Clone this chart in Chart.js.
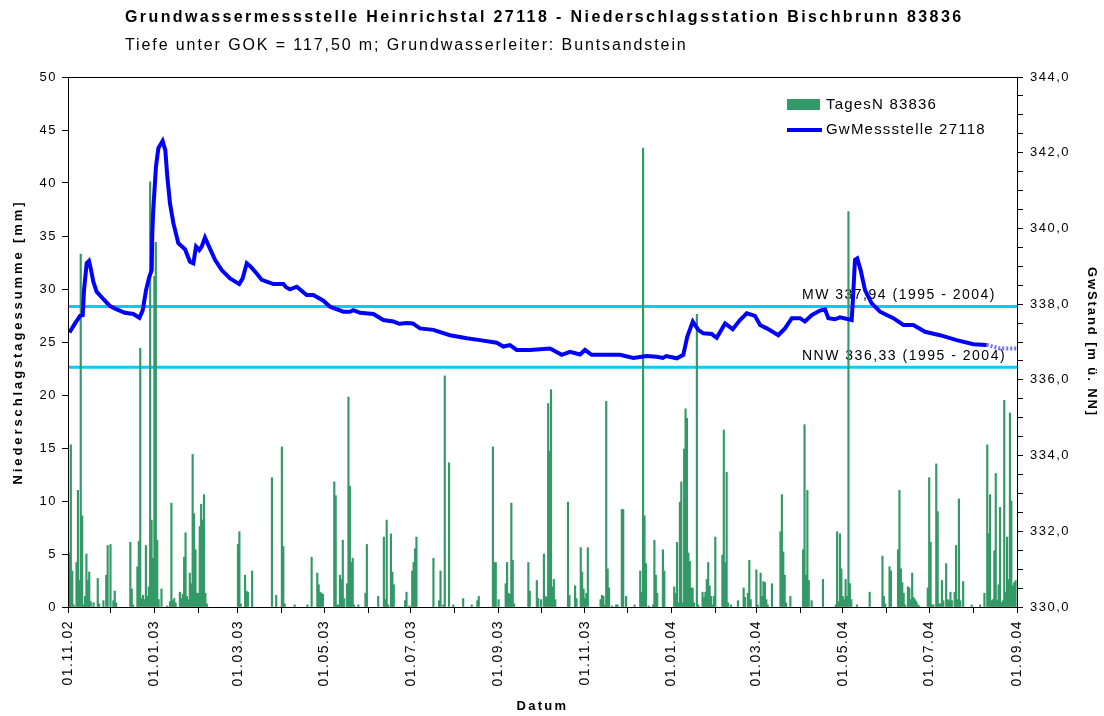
<!DOCTYPE html>
<html>
<head>
<meta charset="utf-8">
<script src="https://cdn.jsdelivr.net/npm/chart.js@4.4.0/dist/chart.umd.min.js"></script>
<style>
html, body { margin: 0; padding: 0; background: #fff; }
#wrap { width: 1104px; height: 716px; }
</style>
</head>
<body>
<div id="wrap"><canvas id="GwChart"></canvas></div>
<script>
// day offsets from 01.11.2002, daily precipitation [mm]
const rainfall = [
    [1,5.1],[2,15.3],[3,3.4],[4,0.2],[6,4.2],[7,11.0],[8,2.5],[9,33.3],[10,8.6],[11,0.2],[12,1.0],[13,5.0],[14,2.5],[15,3.3],[16,0.5],
    [18,0.4],[21,2.7],[22,0.3],[25,0.6],[27,3.0],[28,5.8],[30,5.9],[32,0.6],[33,1.5],[34,0.4],[44,6.1],[45,1.7],[46,0.2],
    [49,3.8],[50,6.2],[51,24.4],[52,0.8],[53,1.1],[54,0.7],[55,5.8],[56,1.0],[57,1.9],[58,40.1],[59,8.2],[60,4.6],[61,31.2],[62,34.4],
    [63,6.3],[64,0.7],[66,1.7],[70,0.1],[72,0.5],[73,9.8],[74,0.6],[75,0.8],[76,0.4],[79,1.4],[80,0.8],[81,1.2],[82,4.7],[83,7.0],
    [84,1.0],[85,0.7],[86,3.2],[87,2.2],[88,14.4],[89,8.8],[90,5.4],[91,1.3],[92,1.3],[93,7.6],[94,9.7],[95,8.2],[96,10.6],[97,1.3],
    [98,0.3],[120,5.9],[121,7.1],[122,0.3],[125,3.0],[126,1.5],[127,1.4],[130,3.4],[144,12.2],[147,1.1],[151,15.1],[152,5.7],[153,0.3],
    [160,0.2],[169,0.2],[172,4.7],[176,3.2],[177,2.1],[178,1.4],[179,1.3],[180,1.2],[188,11.8],[189,10.5],[190,0.2],[191,0.2],[192,3.0],
    [193,2.6],[194,6.3],[195,0.8],[197,2.2],[198,19.8],[199,11.4],[200,4.2],[201,4.6],[202,0.2],[205,0.2],[210,1.3],[211,5.9],[219,1.0],
    [223,6.6],[224,0.7],[225,8.2],[226,0.2],[228,6.9],[229,3.3],[230,2.1],[238,0.6],[239,1.4],[241,0.1],[243,3.4],[244,4.2],[245,5.5],
    [246,6.6],[258,4.6],[262,0.6],[263,3.4],[265,0.2],[266,21.8],[269,13.6],[272,0.2],[279,0.8],[285,0.2],[289,0.6],[290,1.0],[300,15.1],
    [301,4.2],[302,4.2],[304,0.7],[309,2.2],[310,4.2],[311,1.3],[312,1.2],[313,9.8],[314,4.4],[315,0.3],[325,4.2],[326,1.5],[331,2.5],
    [332,0.8],[334,0.7],[336,5.0],[337,1.0],[338,0.9],[339,19.2],[340,14.7],[341,20.5],[342,1.9],[343,2.6],[344,0.7],[353,9.9],[354,1.1],
    [358,2.0],[359,0.8],[362,5.6],[363,3.3],[364,1.7],[365,0.8],[366,1.3],[367,5.6],[376,0.7],[377,1.1],[378,1.0],[379,0.2],[380,19.4],
    [381,3.6],[382,1.8],[384,0.1],[387,0.2],[388,0.2],[391,9.2],[392,9.2],[394,1.0],[400,0.2],[404,3.4],[405,1.4],[406,43.3],[407,8.6],
    [408,4.1],[410,0.1],[413,0.2],[414,6.3],[415,3.0],[416,1.3],[420,5.4],[421,3.4],[428,1.9],[429,1.3],[430,6.1],[431,0.4],[432,9.9],
    [433,11.8],[434,0.4],[435,14.9],[436,18.7],[437,17.8],[438,5.1],[439,4.3],[440,1.8],[441,1.8],[442,0.4],[444,27.6],[445,0.2],
    [448,1.4],[449,0.9],[450,1.4],[451,2.6],[452,4.2],[453,2.0],[454,1.0],[455,0.2],[456,1.0],[457,6.6],[462,4.9],[463,16.7],[464,4.2],
    [465,12.7],[466,0.4],[468,0.2],[473,0.6],[477,1.8],[478,0.9],[480,1.3],[481,4.4],[482,0.7],[486,3.5],[487,0.2],[489,3.2],[490,1.0],
    [491,2.4],[492,2.3],[493,0.7],[494,0.2],[497,2.2],[503,7.1],[504,10.6],[505,5.2],[506,3.0],[507,0.4],[510,1.0],[519,5.4],[520,17.2],
    [521,3.0],[522,11.0],[523,2.5],[525,0.6],[533,2.6],[542,0.2],[543,7.1],[544,0.5],[545,6.9],[546,3.6],[547,1.0],[548,0.7],[549,2.6],
    [550,1.0],[551,37.3],[552,2.2],[553,0.7],[557,0.2],[566,1.4],[575,4.8],[576,1.0],[577,0.3],[580,3.8],[581,3.4],[586,5.4],[587,11.0],
    [588,3.6],[589,2.3],[590,1.3],[591,0.2],[593,1.9],[594,1.8],[595,0.7],[596,3.2],[597,0.9],[598,0.7],[599,0.5],[600,0.2],[601,0.1],
    [607,1.8],[608,12.2],[609,6.1],[610,0.2],[611,0.2],[613,13.5],[614,9.0],[615,0.3],[616,0.3],[617,2.5],[618,0.6],[620,4.1],[621,0.7],
    [622,0.6],[623,1.4],[624,0.6],[626,1.4],[627,5.8],[628,0.7],[629,10.2],[630,0.6],[632,2.4],[638,0.2],[644,0.2],[647,1.3],[649,15.3],
    [650,6.9],[651,10.6],[652,0.6],[653,0.7],[654,5.3],[655,12.6],[656,0.6],[657,2.1],[658,9.4],[659,0.4],[660,0.6],[661,19.5],[662,1.4],
    [663,6.6],[664,2.6],[665,18.3],[666,10.0],[667,2.0],[668,2.3],[669,2.5]
];

// groundwater level [m ü. NN] at day offsets
const gwLevel = [
    [1,337.25],[5,337.49],[8.5,337.69],[10.4,337.71],[11.3,338.37],[13.2,339.08],[14.8,339.14],[16,338.95],[17.9,338.59],[20.2,338.33],
    [25,338.13],[29.7,337.95],[34.4,337.86],[40.2,337.77],[46.1,337.74],[50.4,337.64],[52.7,337.83],[55.1,338.37],[57.4,338.72],
    [59.1,338.90],[59.5,339.87],[60.2,340.49],[62.1,341.63],[63.8,342.12],[66.8,342.31],[68.7,342.07],[70.1,341.37],[72,340.66],
    [74.4,340.14],[77.9,339.61],[82.6,339.45],[86.1,339.12],[88.5,339.08],[90.4,339.52],[92.7,339.43],[94.4,339.52],[96.7,339.76],
    [99.1,339.56],[103.8,339.17],[108.5,338.90],[114.4,338.68],[120.9,338.53],[123.3,338.68],[126.2,339.08],[129,338.99],[133.2,338.81],
    [136.8,338.64],[145,338.53],[152,338.53],[154,338.45],[156.7,338.39],[161.5,338.46],[168.5,338.24],[173.2,338.24],[180.3,338.09],
    [185,337.93],[194.4,337.80],[199,337.80],[201.4,337.84],[206.2,337.77],[215.6,337.74],[222.6,337.58],[229.7,337.54],[234,337.48],
    [239,337.50],[243.4,337.49],[248.5,337.36],[257.9,337.32],[269.7,337.18],[281.5,337.10],[290.9,337.05],[302.7,336.98],[307.3,336.88],
    [312,336.92],[316.8,336.79],[326.2,336.79],[340.3,336.83],[348.6,336.66],[354.4,336.74],[361.5,336.67],[365,336.79],[369.7,336.66],
    [389.7,336.66],[399.1,336.58],[408.5,336.63],[415.6,336.61],[420,336.58],[422.4,336.63],[429.8,336.57],[434.4,336.66],[437.2,337.14],
    [441.1,337.54],[445,337.32],[448.5,337.23],[454.5,337.21],[458,337.11],[463.9,337.49],[469.3,337.34],[474.4,337.58],[479.2,337.76],
    [485,337.69],[488.6,337.45],[493.3,337.36],[501.5,337.18],[506.2,337.36],[511,337.63],[516.8,337.63],[520.3,337.54],[525.1,337.71],
    [530.9,337.83],[534.5,337.86],[536.8,337.63],[541.5,337.60],[545,337.65],[553.3,337.58],[554.4,338.29],[555.6,339.17],[557.2,339.21],
    [559.6,338.90],[562.7,338.37],[567.4,338.02],[573.3,337.80],[582.7,337.63],[589.8,337.45],[596.8,337.45],[605.1,337.27],
    [615.6,337.18],[627.4,337.05],[639.2,336.94],[648.6,336.92],[658,336.83],[670,336.83]
];

const mwLevel = 337.94;
const nnwLevel = 336.33;
const totalDays = 670;

// first of each month, days since 01.11.02
const monthTicks = [0,30,61,92,120,151,181,212,242,273,304,334,365,395,426,457,486,517,547,578,608,639,670];
const monthLabels = ['01.11.02','01.01.03','01.03.03','01.05.03','01.07.03','01.09.03',
                     '01.11.03','01.01.04','01.03.04','01.05.04','01.07.04','01.09.04'];

const FONT = "'Liberation Sans', Arial, sans-serif";
Chart.defaults.font.family = FONT;
Chart.defaults.color = '#000';

function spacedText(ctx, text, x, y, font, spacing, align, rot) {
    ctx.save();
    ctx.translate(x, y);
    if (rot) ctx.rotate(rot);
    ctx.font = font;
    ctx.letterSpacing = spacing + 'px';
    ctx.textAlign = align;
    ctx.textBaseline = 'middle';
    ctx.fillStyle = '#000';
    ctx.fillText(text, 0, 0);
    ctx.restore();
}

const decorations = {
    id: 'decorations',
    beforeDraw(chart) {
        chart.ctx.letterSpacing = '1.5px';
    },
    beforeDatasetsDraw(chart) {
        const ctx = chart.ctx;
        const y2 = chart.scales.y2;
        spacedText(ctx, 'MW 337,94 (1995 - 2004)', 802, y2.getPixelForValue(mwLevel) - 11, '14px ' + FONT, 1.5, 'left');
        spacedText(ctx, 'NNW 336,33 (1995 - 2004)', 802, y2.getPixelForValue(nnwLevel) - 11, '14px ' + FONT, 1.5, 'left');
    },
    afterDraw(chart) {
        const ctx = chart.ctx;
        const a = chart.chartArea;
        ctx.save();
        ctx.letterSpacing = '0px';
        ctx.strokeStyle = '#000';
        ctx.lineWidth = 1;
        ctx.strokeRect(a.left + 0.5, a.top + 0.5, a.right - a.left, a.bottom - a.top);

        // legend
        ctx.fillStyle = '#339966';
        ctx.fillRect(787, 99, 33, 11);
        ctx.strokeStyle = '#0000ff';
        ctx.lineWidth = 4;
        ctx.beginPath();
        ctx.moveTo(787, 130);
        ctx.lineTo(822, 130);
        ctx.stroke();
        ctx.restore();
        spacedText(ctx, 'TagesN 83836', 826, 105, '15px ' + FONT, 1.2, 'left');
        spacedText(ctx, 'GwMessstelle 27118', 826, 130, '15px ' + FONT, 1.2, 'left');

        // titles
        spacedText(ctx, 'Grundwassermessstelle Heinrichstal 27118 - Niederschlagsstation Bischbrunn 83836',
            125, 18, 'bold 16px ' + FONT, 2.4, 'left');
        spacedText(ctx, 'Tiefe unter GOK = 117,50 m; Grundwasserleiter: Buntsandstein',
            125, 46, '16px ' + FONT, 1.9, 'left');
        const midY = (a.top + a.bottom) / 2;
        spacedText(ctx, 'Niederschlagstagessumme [mm]', 18, midY, 'bold 13px ' + FONT, 2.9, 'center', -Math.PI / 2);
        spacedText(ctx, 'GwStand [m ü. NN]', 1092, midY, 'bold 13px ' + FONT, 1.9, 'center', Math.PI / 2);
        spacedText(ctx, 'Datum', (a.left + a.right) / 2, 706, 'bold 13px ' + FONT, 2.3, 'center');
    }
};

const GwChart = new Chart(
    document.getElementById('GwChart'), {
        type: 'bar',
        plugins: [decorations],
        data: {
            datasets: [
                {
                    type: 'line',
                    label: 'GwMessstelle 27118',
                    data: gwLevel.map(d => ({x: d[0], y: d[1]})),
                    yAxisID: 'y2',
                    borderColor: '#0000ff',
                    borderWidth: 4,
                    pointRadius: 0,
                    tension: 0,
                    order: 0,
                    segment: {
                        borderColor: c => c.p0.parsed.x >= 648 ? '#7070ff' : undefined,
                        borderDash: c => c.p0.parsed.x >= 648 ? [2, 2] : undefined,
                    },
                },
                {
                    label: 'TagesN 83836',
                    data: rainfall.map(d => ({x: d[0], y: d[1]})),
                    yAxisID: 'y',
                    backgroundColor: '#339966',
                    barThickness: 1.5,
                    order: 1,
                },
                {
                    type: 'line',
                    label: 'MW',
                    data: [{x: 0, y: mwLevel}, {x: totalDays, y: mwLevel}],
                    yAxisID: 'y2',
                    borderColor: '#00ccff',
                    borderWidth: 3,
                    pointRadius: 0,
                    order: 2,
                },
                {
                    type: 'line',
                    label: 'NNW',
                    data: [{x: 0, y: nnwLevel}, {x: totalDays, y: nnwLevel}],
                    yAxisID: 'y2',
                    borderColor: '#00ccff',
                    borderWidth: 3,
                    pointRadius: 0,
                    order: 2,
                },
            ]
        },
        options: {
            responsive: true,
            maintainAspectRatio: false,
            animation: false,
            layout: {
                padding: {top: 77, left: 0, right: 0, bottom: 0}
            },
            scales: {
                x: {
                    type: 'linear',
                    min: 0,
                    max: totalDays,
                    offset: false,
                    afterBuildTicks: scale => {
                        scale.ticks = monthTicks.map(v => ({value: v}));
                    },
                    afterFit: scale => { scale.height = 109; },
                    grid: {
                        drawOnChartArea: false,
                        drawTicks: true,
                        tickLength: 6,
                        tickColor: '#000',
                        offset: false,
                    },
                    border: {display: false},
                    ticks: {
                        autoSkip: false,
                        minRotation: 90,
                        maxRotation: 90,
                        padding: 7,
                        font: {size: 14},
                        callback: (value, index) => index % 2 === 0 ? monthLabels[index / 2] : '',
                    },
                },
                y: {
                    position: 'left',
                    min: 0,
                    max: 50,
                    afterFit: scale => { scale.width = 68; },
                    grid: {
                        drawOnChartArea: false,
                        tickLength: 6,
                        tickColor: '#000',
                    },
                    border: {display: false},
                    ticks: {
                        stepSize: 5,
                        padding: 5,
                        font: {size: 13},
                    },
                },
                y2: {
                    position: 'right',
                    min: 330,
                    max: 344,
                    afterFit: scale => { scale.width = 87; },
                    grid: {
                        drawOnChartArea: false,
                        tickLength: 6,
                        tickColor: '#000',
                    },
                    border: {display: false},
                    ticks: {
                        stepSize: 0.5,
                        autoSkip: false,
                        padding: 7,
                        font: {size: 13},
                        callback: v => (v % 2 === 0) ? v.toFixed(1).replace('.', ',') : '',
                    },
                },
            },
            plugins: {
                legend: {display: false},
                title: {display: false},
                tooltip: {enabled: false},
            },
        },
    }
);
</script>
</body>
</html>
